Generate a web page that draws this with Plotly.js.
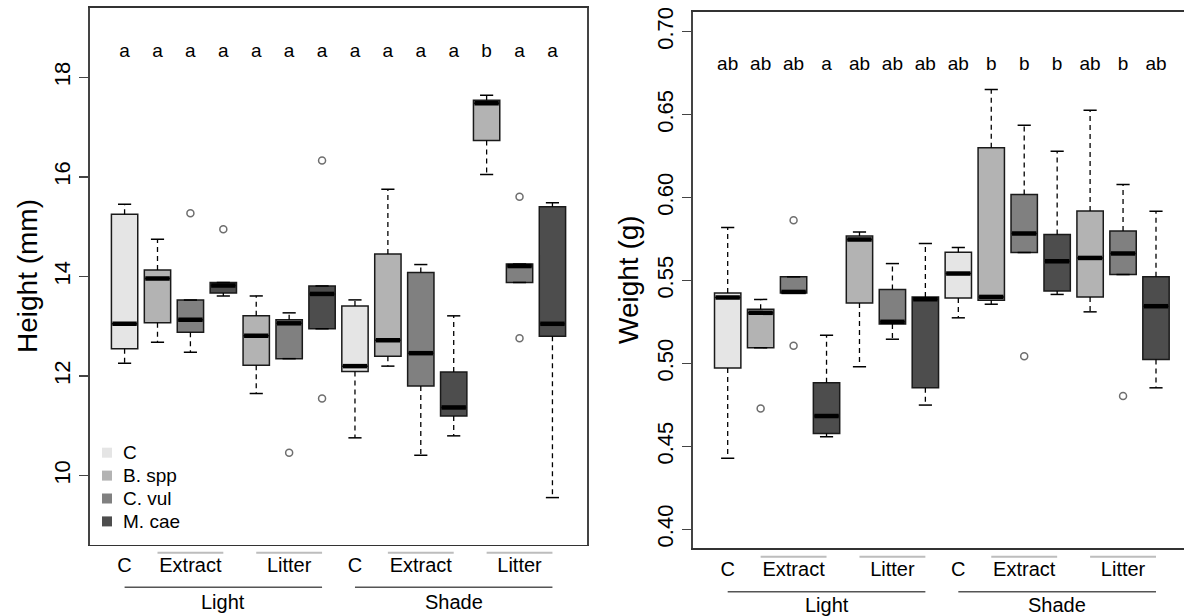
<!DOCTYPE html>
<html>
<head>
<meta charset="utf-8">
<script src="https://cdn.plot.ly/plotly-3.0.1.min.js"></script>
<style>html,body{margin:0;padding:0;background:#fff}#plot{width:1184px;height:616px}</style>
</head>
<body>
<div id="plot"></div>
<script>
// ---------- data ----------
const positions = [1,2,3,4,5,6,7,8,9,10,11,12,13,14];
const species = ['C','B. spp','C. vul','M. cae','B. spp','C. vul','M. cae','C','B. spp','C. vul','M. cae','B. spp','C. vul','M. cae'];
const speciesNames = ['C','B. spp','C. vul','M. cae'];
const speciesColors = ['#e5e5e5','#b3b3b3','#808080','#4d4d4d'];

// Height (mm)
const hLow  = [12.26,12.68,12.48,13.61,11.65,12.35,12.95,10.76,12.20,10.41,10.80,16.05,13.88, 9.56];
const hQ1   = [12.55,13.07,12.88,13.67,12.22,12.35,12.95,12.09,12.40,11.80,11.20,16.73,13.88,12.80];
const hMed  = [13.05,13.96,13.13,13.82,12.81,13.06,13.65,12.20,12.72,12.46,11.37,17.48,14.21,13.05];
const hQ3   = [15.25,14.13,13.53,13.88,13.21,13.13,13.81,13.41,14.45,14.08,12.08,17.54,14.25,15.40];
const hHigh = [15.45,14.75,13.53,13.88,13.61,13.27,13.81,13.53,15.75,14.24,13.21,17.64,14.25,15.48];
const hOutX = [3,4,6,7,7,13,13];
const hOutY = [15.27,14.95,10.46,16.33,11.55,15.60,12.76];
const hLetters = ['a','a','a','a','a','a','a','a','a','a','a','b','a','a'];

// Weight (g)
const wLow  = [0.4428,0.5094,0.5425,0.4558,0.4980,0.5146,0.4749,0.5275,0.5357,0.5669,0.5416,0.5311,0.5536,0.4853];
const wQ1   = [0.4973,0.5094,0.5425,0.4578,0.5365,0.5237,0.4853,0.5395,0.5381,0.5669,0.5437,0.5401,0.5536,0.5024];
const wMed  = [0.5398,0.5305,0.5431,0.4683,0.5747,0.5251,0.5387,0.5542,0.5401,0.5783,0.5616,0.5636,0.5663,0.5345];
const wQ3   = [0.5425,0.5327,0.5522,0.4883,0.5769,0.5446,0.5401,0.5670,0.6301,0.6018,0.5777,0.5919,0.5799,0.5522];
const wHigh = [0.5819,0.5386,0.5522,0.5170,0.5793,0.5602,0.5723,0.5699,0.6652,0.6436,0.6279,0.6526,0.6078,0.5917];
const wOutX = [2,3,3,10,13];
const wOutY = [0.4729,0.5863,0.5106,0.5044,0.4803];
const wLetters = ['ab','ab','ab','a','ab','ab','ab','ab','b','b','b','ab','b','ab'];

const levelTicks = [1,3,6,8,10,13];
const levelText = ['C','Extract','Litter','C','Extract','Litter'];
const subGroups = [[2,4],[5,7],[9,11],[12,14]];
const lightShadeSpans = [[1,7],[8,14]];
const lightShadeCenters = [4,11];
const lightShadeText = ['Light','Shade'];

// ---------- build ----------
const FONT = 'Liberation Sans, Arial, Helvetica, sans-serif';
const BOXW = 0.8, CAP = 0.2;

function panel(xa, ya, lo, q1, med, q3, hi, outX, outY, letters, letterY) {
  const traces = [];
  const wx = [], wy = [];
  positions.forEach((p, i) => {
    if (hi[i] > q3[i]) { wx.push(p, p, null); wy.push(q3[i], hi[i], null); }
    if (lo[i] < q1[i]) { wx.push(p, p, null); wy.push(q1[i], lo[i], null); }
  });
  traces.push({type:'scatter', mode:'lines', x:wx, y:wy, xaxis:xa, yaxis:ya,
    line:{color:'#000', width:1.3, dash:'5px,4px'}, showlegend:false, hoverinfo:'skip'});
  const cx = [], cy = [];
  positions.forEach((p, i) => {
    cx.push(p-CAP, p+CAP, null, p-CAP, p+CAP, null);
    cy.push(hi[i], hi[i], null, lo[i], lo[i], null);
  });
  traces.push({type:'scatter', mode:'lines', x:cx, y:cy, xaxis:xa, yaxis:ya,
    line:{color:'#000', width:1.5}, showlegend:false, hoverinfo:'skip'});
  speciesNames.forEach((s, k) => {
    const idx = positions.map((p,i)=>i).filter(i => species[i] === s);
    traces.push({type:'box', xaxis:xa, yaxis:ya, showlegend:false, name:s,
      x: idx.map(i=>positions[i]),
      q1: idx.map(i=>q1[i]), median: idx.map(i=>med[i]), q3: idx.map(i=>q3[i]),
      lowerfence: idx.map(i=>q1[i]), upperfence: idx.map(i=>q3[i]),
      width: BOXW, fillcolor: speciesColors[k], line:{color:'#1a1a1a', width:1.5},
      whiskerwidth: 0, boxpoints:false, hoverinfo:'skip'});
  });
  const mx = [], my = [];
  positions.forEach((p, i) => { mx.push(p-BOXW/2+0.03, p+BOXW/2-0.03, null); my.push(med[i], med[i], null); });
  traces.push({type:'scatter', mode:'lines', x:mx, y:my, xaxis:xa, yaxis:ya,
    line:{color:'#000', width:4.5}, showlegend:false, hoverinfo:'skip'});
  traces.push({type:'scatter', mode:'markers', x:outX, y:outY, xaxis:xa, yaxis:ya,
    marker:{symbol:'circle-open', size:7, color:'#6e6e6e', line:{width:1.5}}, showlegend:false, hoverinfo:'skip'});
  traces.push({type:'scatter', mode:'text', x:positions, y:positions.map(()=>letterY), text:letters,
    xaxis:xa, yaxis:ya, textposition:'middle center', textfont:{family:FONT, size:19, color:'#000'},
    showlegend:false, hoverinfo:'skip'});
  return traces;
}

let data = [];
data = data.concat(panel('x','y', hLow,hQ1,hMed,hQ3,hHigh, hOutX,hOutY, hLetters, 18.5));
data = data.concat(panel('x2','y2', wLow,wQ1,wMed,wQ3,wHigh, wOutX,wOutY, wLetters, 0.68));

const W = 1184, H = 616;
const px = v => v / W, py = v => 1 - v / H;

const L = {x0: 89.7, x1: 587.0, y0: 7.7, y1: 544.5};
const R = {x0: 692.7, x1: 1184, y0: 11.7, y1: 548.3};

const xCommon = {
  tickmode:'array', tickvals: levelTicks, ticktext: levelText, ticks:'',
  tickfont:{family:FONT, size:20, color:'#000'}, showgrid:false, zeroline:false,
  showline:true, linecolor:'#333', linewidth:1.5, mirror:true, ticklabelstandoff: 2
};
const yCommon = {
  ticks:'outside', ticklen:9, tickwidth:1.5, tickcolor:'#444', tickangle:-90,
  tickfont:{family:FONT, size:22, color:'#000'}, showgrid:false, zeroline:false,
  showline:true, linecolor:'#444', linewidth:1.5
};

const shapes = [];
const annotations = [];
function decorate(xa, grayY, darkY, labelY) {
  subGroups.forEach(([a,b]) => shapes.push({type:'line', xref:xa, yref:'paper', x0:a, x1:b, y0:py(grayY), y1:py(grayY),
    line:{color:'#bdbdbd', width:2}}));
  lightShadeSpans.forEach(([a,b]) => shapes.push({type:'line', xref:xa, yref:'paper', x0:a, x1:b, y0:py(darkY), y1:py(darkY),
    line:{color:'#555', width:1.5}}));
  lightShadeCenters.forEach((c,i) => annotations.push({xref:xa, yref:'paper', x:c, y:py(labelY), text:lightShadeText[i],
    showarrow:false, xanchor:'center', yanchor:'middle', font:{family:FONT, size:20, color:'#000'}}));
}
decorate('x', 552.7, 587.3, 601.7);
decorate('x2', 556.7, 591.7, 605);

// legend (species colours), drawn as key squares + labels
const legendY = [452.7, 475.6, 498.5, 521.4];
speciesNames.forEach((s, k) => {
  shapes.push({type:'rect', xref:'paper', yref:'paper', x0:px(102), x1:px(112), y0:py(legendY[k]+5), y1:py(legendY[k]-5),
    fillcolor:speciesColors[k], line:{width:0}});
  annotations.push({xref:'paper', yref:'paper', x:px(121), y:py(legendY[k]), text:s, showarrow:false,
    xanchor:'left', yanchor:'middle', font:{family:FONT, size:19, color:'#000'}});
});

annotations.push({xref:'paper', yref:'paper', x:px(27), y:py(276), text:'Height (mm)', textangle:-90, showarrow:false,
  xanchor:'center', yanchor:'middle', font:{family:FONT, size:28, color:'#000'}});
annotations.push({xref:'paper', yref:'paper', x:px(628), y:py(280), text:'Weight (g)', textangle:-90, showarrow:false,
  xanchor:'center', yanchor:'middle', font:{family:FONT, size:28, color:'#000'}});

const layout = {
  width: W, height: H, margin:{l:0, r:0, t:0, b:0}, paper_bgcolor:'#fff', plot_bgcolor:'#fff',
  font:{family:FONT}, showlegend:false, boxmode:'overlay',
  xaxis: Object.assign({}, xCommon, {domain:[px(L.x0), px(L.x1)], range:[-0.06, 15.05], anchor:'y'}),
  yaxis: Object.assign({}, yCommon, {domain:[py(L.y1), py(L.y0)], range:[8.618, 19.398], mirror:true,
    tickvals:[10,12,14,16,18], anchor:'x'}),
  xaxis2: Object.assign({}, xCommon, {domain:[px(R.x0), 1], range:[-0.062, 14.85], anchor:'y2'}),
  yaxis2: Object.assign({}, yCommon, {domain:[py(R.y1), py(R.y0)], range:[0.38855, 0.71205],
    tickvals:[0.40,0.45,0.50,0.55,0.60,0.65,0.70], tickformat:'.2f', anchor:'x2'}),
  shapes, annotations
};

Plotly.newPlot('plot', data, layout, {displayModeBar:false, staticPlot:true});
</script>
</body>
</html>
